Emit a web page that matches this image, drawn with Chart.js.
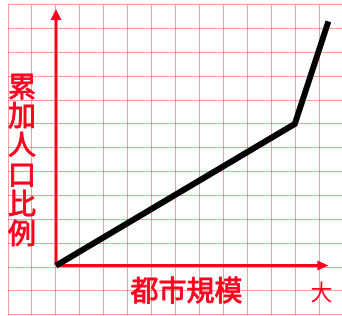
<!DOCTYPE html>
<html><head><meta charset="utf-8">
<script src="https://cdn.jsdelivr.net/npm/chart.js@4"></script>
<style>html,body{margin:0;padding:0;background:#fff;}#wrap{width:342px;height:316px;}</style>
</head><body><div id="wrap"><canvas id="c" width="342" height="316"></canvas></div>
<script>
// Curve: city size (x) vs cumulative population share (y), in grid-cell units
const xValues = [2.0, 11.95, 13.35];
const yValues = [2.06, 8.0, 12.3];
// Axes origin and arrow tips (grid-cell units)
const origin = [2.0, 2.06];
const xAxisEnd = 13.35;
const yAxisEnd = 12.82;
// Texts
const yTitleChars = ['累','加','人','口','比','例'];
const xTitle = '都市規模';
const xEndLabel = '大';

const RED = 'rgb(255,0,30)';

const axesPlugin = {
  id: 'axesPlugin',
  beforeDatasetsDraw(chart) {
    const {ctx, scales: {x, y}} = chart;
    const ox = x.getPixelForValue(origin[0]), oy = y.getPixelForValue(origin[1]);
    const ex = x.getPixelForValue(xAxisEnd), ey = y.getPixelForValue(yAxisEnd);
    ctx.save();
    ctx.strokeStyle = RED; ctx.fillStyle = RED; ctx.lineWidth = 3;
    ctx.beginPath();
    ctx.moveTo(ox, oy); ctx.lineTo(ex - 9, oy);
    ctx.moveTo(ox, oy); ctx.lineTo(ox, ey + 9);
    ctx.stroke();
    ctx.beginPath();
    ctx.moveTo(ex, oy); ctx.lineTo(ex - 11, oy - 5); ctx.lineTo(ex - 11, oy + 5); ctx.closePath(); ctx.fill();
    ctx.beginPath();
    ctx.moveTo(ox, ey); ctx.lineTo(ox - 5.5, ey + 11); ctx.lineTo(ox + 5.5, ey + 11); ctx.closePath(); ctx.fill();
    ctx.restore();
  },
  afterDatasetsDraw(chart) {
    const {ctx, scales: {x, y}} = chart;
    ctx.save();
    ctx.fillStyle = RED; ctx.strokeStyle = RED; ctx.lineJoin = 'round';
    ctx.textAlign = 'center'; ctx.textBaseline = 'middle';
    const draw = (t, px, py, w) => { ctx.fillText(t, px, py); ctx.lineWidth = w; ctx.strokeText(t, px, py); };
    ctx.font = '28px "Noto Sans CJK JP"';
    const yx = x.getPixelForValue(0.58);
    const y0 = y.getPixelForValue(9.59);
    yTitleChars.forEach((ch, i) => draw(ch, yx, y0 + i * 29.4, 0.9));
    draw(xTitle, x.getPixelForValue(7.44), y.getPixelForValue(1.0), 0.9);
    ctx.font = '22px "Noto Sans CJK JP"';
    ctx.fillText(xEndLabel, x.getPixelForValue(13.06), y.getPixelForValue(0.95));
    ctx.restore();
  }
};

new Chart(document.getElementById('c'), {
  type: 'line',
  data: {
    datasets: [{
      data: xValues.map((v, i) => ({x: v, y: yValues[i]})),
      borderColor: '#000',
      borderWidth: 6,
      pointRadius: 0,
      tension: 0,
      borderCapStyle: 'butt',
      borderJoinStyle: 'miter'
    }]
  },
  options: {
    responsive: false,
    animation: false,
    devicePixelRatio: 1,
    layout: {padding: {left: 8, top: 4.7, right: 0, bottom: 1.3}},
    plugins: {legend: {display: false}, tooltip: {enabled: false}},
    scales: {
      x: {
        type: 'linear', min: 0, max: 13.917,
        ticks: {display: false, stepSize: 1, includeBounds: false},
        grid: {color: 'rgba(255,0,0,0.38)', lineWidth: 1, drawTicks: false},
        border: {display: false}
      },
      y: {
        type: 'linear', min: 0, max: 13,
        ticks: {display: false, stepSize: 1, includeBounds: false},
        grid: {color: 'rgba(255,0,0,0.38)', lineWidth: 1, drawTicks: false},
        border: {display: false}
      }
    }
  },
  plugins: [axesPlugin]
});
</script>
</body></html>
